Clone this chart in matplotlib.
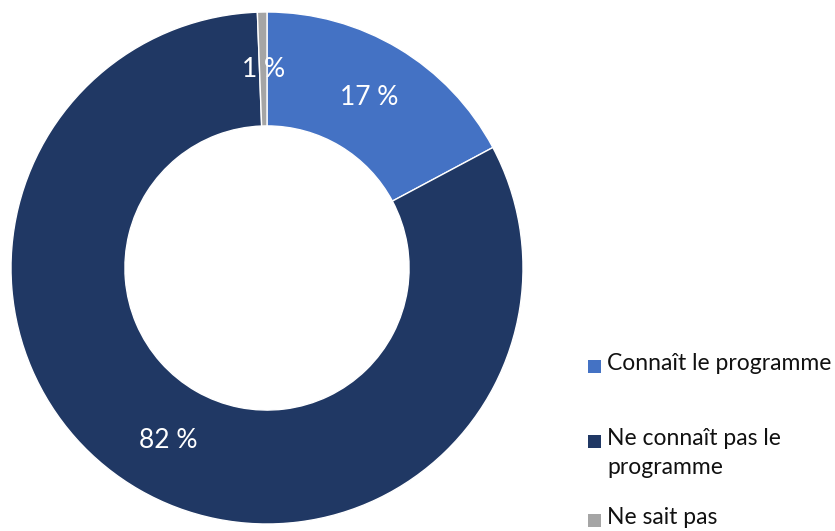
import matplotlib.pyplot as plt
from matplotlib.patches import Rectangle

plt.rcParams['font.family'] = ['Lato', 'DejaVu Sans']

# données
labels = ['Connaît le programme', 'Ne connaît pas le\nprogramme', 'Ne sait pas']
values = [17.2, 82.2, 0.6]
colors = ['#4472C4', '#203864', '#A5A5A5']

W, H = 835, 531
fig = plt.figure(figsize=(W / 100, H / 100), dpi=100)

# anneau: centre (267, 268) px, rayon 256 px
cx, cy, r = 267, 268, 256
ax = fig.add_axes([(cx - r) / W, (H - cy - r) / H, 2 * r / W, 2 * r / H])
wedges, texts, autotexts = ax.pie(
    values, colors=colors, startangle=90, counterclock=False, radius=1,
    autopct=lambda p: f'{p:.0f} %', pctdistance=0.777,
    wedgeprops=dict(width=0.445, edgecolor='white', linewidth=1),
    textprops=dict(color='white', fontsize=19))
ax.set_xlim(-1, 1)
ax.set_ylim(-1, 1)
ax.set_aspect('equal')
ax.axis('off')

# légende à droite
leg_y = [366, 441, 520]
for lab, col, y in zip(labels, colors, leg_y):
    fig.patches.append(Rectangle((588 / W, (H - y - 7) / H), 13 / W, 13 / H,
                                 transform=fig.transFigure, facecolor=col,
                                 edgecolor='none'))
    fig.text(607 / W, (H - y + 13) / H, lab, fontsize=16.5, color='#111111',
             va='top', ha='left', linespacing=1.45)

fig.savefig('out.png', dpi=100)
